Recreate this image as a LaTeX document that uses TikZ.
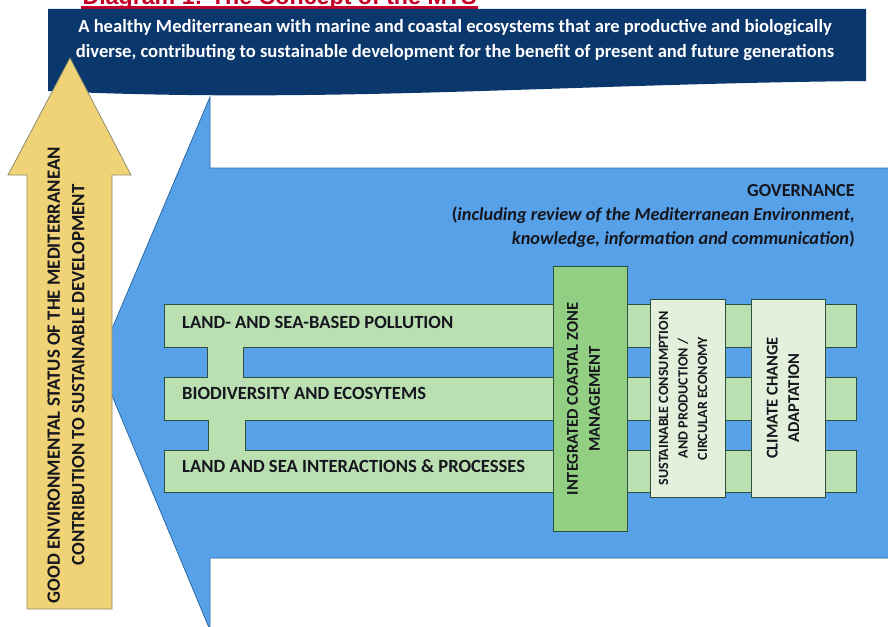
\documentclass[tikz,border=0pt]{standalone}
\usepackage{fontspec}
\setmainfont{Carlito}
\newfontfamily\titlefont{Liberation Sans}
\definecolor{navy}{RGB}{10,55,108}
\definecolor{skyb}{RGB}{86,161,232}
\definecolor{skyedge}{RGB}{45,105,165}
\definecolor{sand}{RGB}{240,211,118}
\definecolor{sandedge}{RGB}{140,140,110}
\definecolor{bargreen}{RGB}{186,223,177}
\definecolor{midgreen}{RGB}{147,207,130}
\definecolor{palegreen}{RGB}{227,240,219}
\definecolor{greenedge}{RGB}{45,80,60}
\definecolor{txt}{RGB}{22,22,30}
\definecolor{titlered}{RGB}{195,0,40}
\tikzset{
  bartext/.style={anchor=west, text=txt, font=\bfseries\fontsize{18.6}{20}\selectfont, inner sep=0pt},
  vbox/.style={draw=greenedge, line width=0.8pt, rotate=90, align=center, text=txt, inner sep=0pt},
}
\begin{document}
\begin{tikzpicture}[x=1pt,y=-1pt]
\useasboundingbox (0,0) rectangle (888,626);
% title (partly cut off at top)
\node[anchor=base, text=titlered, font=\titlefont\bfseries\fontsize{23.2}{26}\selectfont, inner sep=0pt] (title) at (279.5,5) {Diagram 1: The Concept of the MTS};
\draw[titlered, line width=2.5pt] (81,7.5) -- (478,7.5);
% blue arrow
\draw[fill=skyb, draw=skyedge, line width=0.8pt] (98,362) -- (210,97) -- (210,168) -- (895,168) -- (895,558) -- (210,558) -- (210,630) -- cycle;
% banner
\fill[navy] (48,9) -- (866,9) -- (866,81) .. controls (560,84) and (330,104) .. (48,91) -- cycle;
\node[text=white, align=center, font=\bfseries\fontsize{18.6}{25}\selectfont, inner sep=0pt] (goal) at (455,40)
  {A healthy Mediterranean with marine and coastal ecosystems that are productive and biologically\\
   diverse, contributing to sustainable development for the benefit of present and future generations};
% yellow arrow
\draw[fill=sand, draw=sandedge, line width=0.8pt] (70,58) -- (131,175) -- (112,175) -- (112,609) -- (27,609) -- (27,175) -- (8,175) -- cycle;
\node[rotate=90, align=center, text=txt, font=\bfseries\fontsize{18.8}{24.5}\selectfont, inner sep=0pt] (ges) at (66,375)
  {GOOD ENVIRONMENTAL STATUS OF THE MEDITERRANEAN\\CONTRIBUTION TO SUSTAINABLE DEVELOPMENT};
% governance
\node[anchor=east, align=right, text=txt, font=\bfseries\fontsize{18.3}{24}\selectfont, inner sep=0pt] (gov) at (855,216)
  {GOVERNANCE\\(\textit{including review of the Mediterranean Environment,}\\\textit{knowledge, information and communication})};
% green comb of bars
\draw[fill=bargreen, draw=greenedge, line width=0.8pt]
  (164,304) -- (856,304) -- (856,347) -- (243,347) -- (243,377) -- (856,377) -- (856,420) -- (245,420) -- (245,450) -- (856,450) -- (856,492)
  -- (164,492) -- (164,450) -- (208,450) -- (208,420) -- (164,420) -- (164,377) -- (207,377) -- (207,347) -- (164,347) -- cycle;
\node[bartext] (p1) at (182,322) {LAND- AND SEA-BASED POLLUTION};
\node[bartext] (p2) at (182,393.5) {BIODIVERSITY AND ECOSYTEMS};
\node[bartext] (p3) at (182,466) {LAND AND SEA INTERACTIONS \& PROCESSES};
% vertical boxes
\node[vbox, fill=midgreen, minimum width=265pt, minimum height=74pt] (iczm) at (590,398.5) {};
\node[rotate=90, align=center, text=txt, font=\bfseries\fontsize{16.5}{22}\selectfont, inner sep=0pt] (iczmt) at (583.5,399) {INTEGRATED COASTAL ZONE\\MANAGEMENT};
\node[vbox, fill=palegreen, minimum width=198pt, minimum height=75pt] (scp) at (687.5,398) {};
\node[rotate=90, align=center, text=txt, font=\bfseries\fontsize{14.1}{19.5}\selectfont, inner sep=0pt] (scpt) at (683,398.5) {SUSTAINABLE CONSUMPTION\\AND PRODUCTION /\\CIRCULAR ECONOMY};
\node[vbox, fill=palegreen, minimum width=198pt, minimum height=74pt] (cca) at (788,398) {};
\node[rotate=90, align=center, text=txt, font=\bfseries\fontsize{16.5}{21.5}\selectfont, inner sep=0pt] (ccat) at (783,398) {CLIMATE CHANGE\\ADAPTATION};
\end{tikzpicture}
\end{document}
